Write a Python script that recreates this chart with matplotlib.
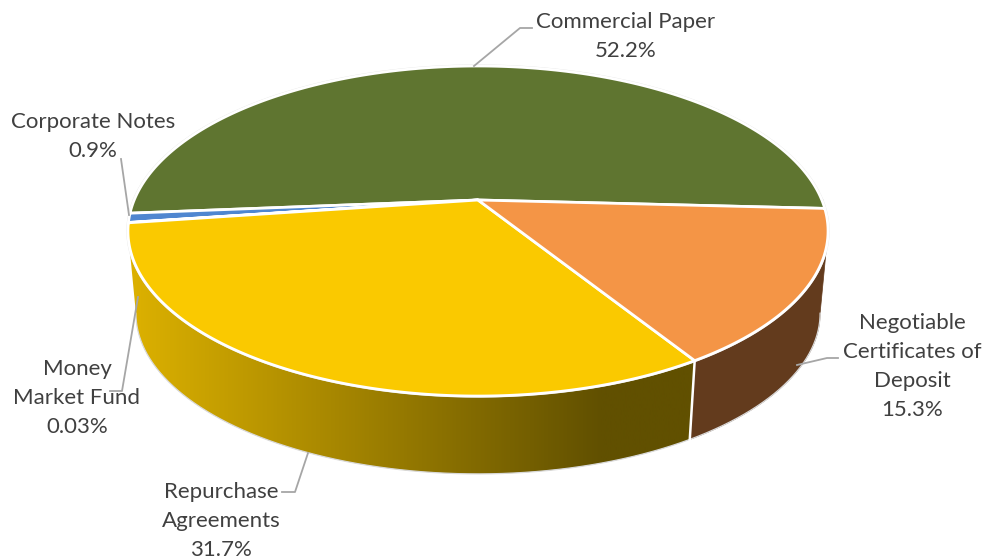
import numpy as np
import matplotlib
matplotlib.use("Agg")
import matplotlib.pyplot as plt
from matplotlib.colors import LinearSegmentedColormap
from matplotlib.patches import Polygon

# slices go counter clockwise from START_ANGLE
labels = ["Commercial Paper", "Corporate Notes", "Money\nMarket Fund",
          "Repurchase\nAgreements", "Negotiable\nCertificates of\nDeposit"]
values = [52.2, 0.9, 0.03, 31.7, 15.3]
value_text = ["52.2%", "0.9%", "0.03%", "31.7%", "15.3%"]
colors = ["#5f7530", "#4f86d0", "#a5a5a5", "#fac900", "#f49546"]
START_ANGLE = -3.0

CX = 478.0
K = 0.188       # perspective strength
TOP = dict(y0=200.0, a=159.2, b=343.8)
BOTTOM = dict(y0=283.0, a=155.0, b=336.0)

text_pos = [(626, 22), (93, 122), (77, 369), (221, 492), (912, 323)]
LINE_STEP = 29
leaders = [
    [(474, 66), (520, 28), (532, 28)],
    [(121, 159), (129, 215)],
    [(138, 297), (122, 391), (110, 391)],
    [(308, 453), (295, 492), (282, 492)],
    [(797, 365), (827, 358), (838, 358)],
]

yellow_side = LinearSegmentedColormap.from_list("yellow_side", ["#dbb000", "#615000"])
BROWN_SIDE = "#633b1d"


def project(theta, disc):
    # theta in degrees, circle in perspective
    t = np.radians(theta)
    u, v = np.cos(t), np.sin(t)
    w = 1 + K * v
    return CX + disc["b"] * u / w, disc["y0"] - disc["a"] * v / w


def wall_outline(a0, a1):
    th = np.linspace(a0, a1, 300)
    xt, yt = project(th, TOP)
    xb, yb = project(th[::-1], BOTTOM)
    return list(zip(xt, yt)) + list(zip(xb, yb))


fig = plt.figure(figsize=(9.82, 5.6), dpi=100)
ax = fig.add_axes([0, 0, 1, 1])
ax.axis("off")

fractions = np.array(values) / sum(values)
edges = START_ANGLE + 360 * np.concatenate([[0], np.cumsum(fractions)])

# the walls show only between the two points where the rim turns back
turn = np.degrees(np.arcsin(K))
wall_start = 180 + turn
wall_end = 360 - turn

wall = Polygon(wall_outline(wall_start, edges[4]), closed=True, facecolor="none", edgecolor="none")
ax.add_patch(wall)
ramp_x = np.linspace(120, 700, 600)
ramp = np.clip((ramp_x - 135) / (603 - 135), 0, 1).reshape(1, -1)
img = ax.imshow(ramp, cmap=yellow_side, vmin=0, vmax=1, extent=(120, 700, 560, 0), aspect="auto", zorder=2)
img.set_clip_path(wall)
ax.add_patch(Polygon(wall_outline(edges[4], wall_end), closed=True, facecolor=BROWN_SIDE,
                     edgecolor=BROWN_SIDE, lw=0.5, zorder=2))

# thin grey rim under the walls and round the top
th = np.linspace(wall_start, wall_end, 400)
ax.plot(*project(th, BOTTOM), color="#d9d9d9", lw=0.9, zorder=2.5)
th = np.linspace(0, 360, 720)
ax.plot(*project(th, TOP), color="#e4e4e4", lw=2.3, zorder=3)

# white seam between the two walls
xa, ya = project(edges[4], TOP)
xb, yb = project(edges[4], BOTTOM)
ax.plot([xa, xb], [ya, yb], color="white", lw=1.8, zorder=3)

# top face
for i in range(len(values)):
    th = np.linspace(edges[i], edges[i + 1], max(int((edges[i + 1] - edges[i]) * 4), 2))
    x, y = project(th, TOP)
    pts = [(CX, TOP["y0"])] + list(zip(x, y))
    ax.add_patch(Polygon(pts, closed=True, facecolor=colors[i], edgecolor="white",
                         lw=2.0, joinstyle="round", zorder=4))

for pts in leaders:
    ax.plot(*zip(*pts), color="#a6a6a6", lw=1.3, zorder=5)

for name, val, (tx, ty) in zip(labels, value_text, text_pos):
    for n, line in enumerate(name.split("\n") + [val]):
        ax.text(tx, ty + n * LINE_STEP, line, ha="center", va="center",
                family="Lato", fontsize=16, color="#404040", zorder=6)

ax.set_xlim(0, 982)
ax.set_ylim(560, 0)

fig.savefig("out.png", dpi=100)
